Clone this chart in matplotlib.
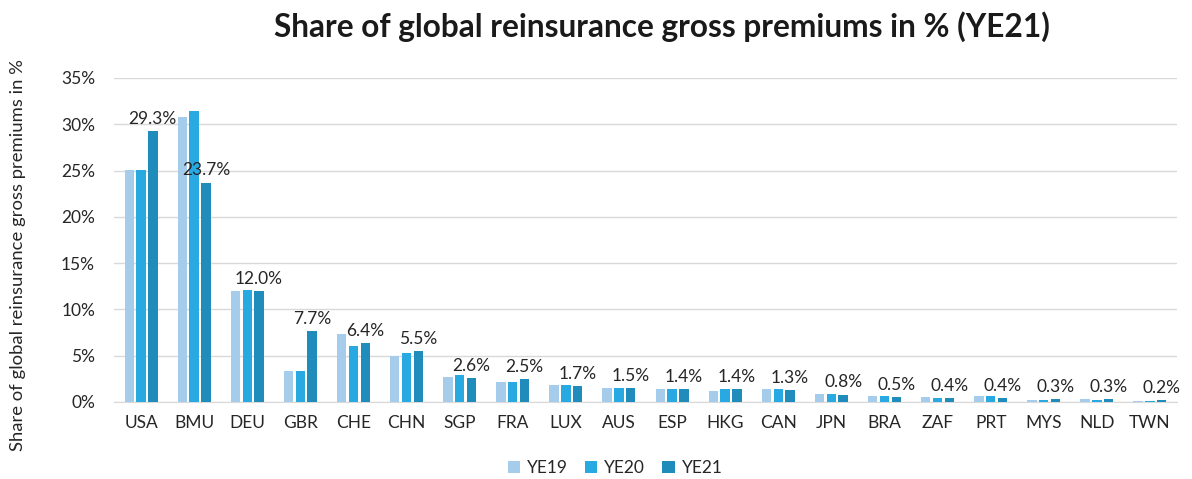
import matplotlib
matplotlib.use("Agg")
import matplotlib.pyplot as plt
import numpy as np
from matplotlib.ticker import FuncFormatter

plt.rcParams['font.family'] = ['Lato', 'DejaVu Sans']

countries = ["USA", "BMU", "DEU", "GBR", "CHE", "CHN", "SGP", "FRA", "LUX", "AUS",
             "ESP", "HKG", "CAN", "JPN", "BRA", "ZAF", "PRT", "MYS", "NLD", "TWN"]
ye19 = [25.1, 30.8, 12.0, 3.3, 7.3, 5.0, 2.7, 2.2, 1.8, 1.55,
        1.4, 1.15, 1.4, 0.86, 0.6, 0.54, 0.68, 0.2, 0.33, 0.1]
ye20 = [25.1, 31.4, 12.1, 3.3, 6.0, 5.3, 2.9, 2.2, 1.8, 1.55,
        1.4, 1.4, 1.45, 0.9, 0.65, 0.47, 0.6, 0.2, 0.25, 0.1]
ye21 = [29.3, 23.7, 12.0, 7.7, 6.4, 5.5, 2.6, 2.5, 1.7, 1.5,
        1.4, 1.4, 1.3, 0.8, 0.5, 0.4, 0.4, 0.3, 0.3, 0.2]
ye21_labels = ["29.3%", "23.7%", "12.0%", "7.7%", "6.4%", "5.5%", "2.6%", "2.5%", "1.7%", "1.5%",
               "1.4%", "1.4%", "1.3%", "0.8%", "0.5%", "0.4%", "0.4%", "0.3%", "0.3%", "0.2%"]
series = ["YE19", "YE20", "YE21"]
colors = ["#A5CDEB", "#29A9E1", "#1F8CBC"]

fig = plt.figure(figsize=(11.92, 4.79), dpi=100)
ax = fig.add_axes([114.5/1192, 1-402/479, (1176.5-114.5)/1192, (402-78)/479])

x = np.arange(len(countries))
step = 0.222
width = 0.178
for i, (vals, c, name) in enumerate(zip([ye19, ye20, ye21], colors, series)):
    bars = ax.bar(x + (i-1)*step, vals, width=width, color=c, label=name, zorder=3)
    if name == "YE21":
        for b, lab in zip(bars, ye21_labels):
            ax.annotate(lab, (b.get_x()+b.get_width()/2, b.get_height()),
                        xytext=(0, 3), textcoords="offset points",
                        ha="center", va="bottom", fontsize=12.5, color="#262626", zorder=4)

ax.set_xlim(-0.5, len(countries)-0.5)
ax.set_ylim(0, 35)
ax.set_yticks(np.arange(0, 36, 5))
ax.yaxis.set_major_formatter(FuncFormatter(lambda v, p: f"{v:.0f}%"))
ax.set_xticks(x)
ax.set_xticklabels(countries)
ax.tick_params(axis='both', length=0, labelsize=12.5, labelcolor="#262626")
ax.tick_params(axis='x', pad=9)
ax.tick_params(axis='y', pad=14)
ax.grid(axis='y', color="#D9D9D9", linewidth=1, zorder=0)
for s in ["top", "right", "left"]:
    ax.spines[s].set_visible(False)
ax.spines["bottom"].set_color("#D9D9D9")
ax.spines["bottom"].set_zorder(2)

fig.text(662/1192, 1-27/479, "Share of global reinsurance gross premiums in % (YE21)",
         ha="center", va="center", fontsize=22.8, fontweight="bold", color="#1a1a1a")
fig.text(18/1192, 1-255/479, "Share of global reinsurance gross premiums in %",
         rotation=90, ha="center", va="center", fontsize=13.3, color="#262626")

leg = fig.legend(loc="center", bbox_to_anchor=(615/1192, 1-468/479), ncol=3, frameon=False,
                 fontsize=12.5, handlelength=0.7, handleheight=0.7, columnspacing=1.0,
                 handletextpad=0.4)
for t in leg.get_texts():
    t.set_color("#262626")

fig.savefig("out.png", dpi=100)
